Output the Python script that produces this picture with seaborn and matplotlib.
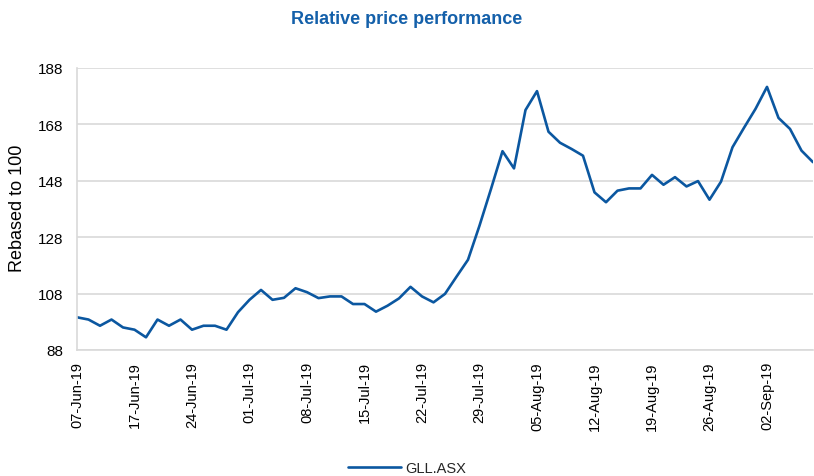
import matplotlib
matplotlib.use("Agg")
import matplotlib.pyplot as plt
import seaborn as sns
import pandas as pd

# Trading days 07-Jun-19 .. 06-Sep-19 (ASX, 10-Jun-19 holiday)
dates = [d for d in pd.bdate_range("2019-06-07", "2019-09-06") if d != pd.Timestamp("2019-06-10")]
values = [
    99.6, 98.8, 96.6, 98.8, 96.0, 95.2, 92.5, 98.8, 96.6, 98.8,
    95.2, 96.6, 96.6, 95.2, 101.4, 105.8, 109.3, 105.8, 106.5, 109.9,
    108.5, 106.4, 107.0, 107.0, 104.3, 104.3, 101.6, 103.7, 106.3, 110.4,
    107.0, 104.9, 107.9, 114.0, 120.0, 132.1, 145.1, 158.5, 152.4, 173.1,
    179.8, 165.4, 161.5, 159.3, 156.9, 143.9, 140.4, 144.5, 145.3, 145.3,
    150.1, 146.6, 149.3, 146.0, 147.9, 141.3, 147.7, 159.9, 166.8, 173.5,
    181.3, 170.3, 166.4, 158.7, 154.6,
]
series_name = "GLL.ASX"
y_ticks = [88, 108, 128, 148, 168, 188]

df = pd.DataFrame({"idx": range(len(values)), "value": values, "series": series_name})

sns.set_theme(style="white")
plt.rcParams["font.family"] = ["Liberation Sans", "DejaVu Sans"]

LINE = "#0B57A0"
fig = plt.figure(figsize=(8.14, 4.77), dpi=100)
ax = fig.add_axes([77 / 814, 1 - 351 / 477, (813 - 77) / 814, (351 - 69) / 477])

sns.lineplot(data=df, x="idx", y="value", hue="series", palette=[LINE],
             linewidth=1.9, ax=ax, legend=False)

ax.set_xlim(0, len(values) - 1)
ax.set_ylim(88, 188)
ax.set_yticks(y_ticks)
ax.set_yticklabels([str(t) for t in y_ticks], fontsize=11, color="#000000")
tick_pos = list(range(0, len(values), 5))
ax.set_xticks(tick_pos)
ax.set_xticklabels([dates[i].strftime("%d-%b-%y") for i in tick_pos],
                   rotation=90, fontsize=10.5, color="#000000")
ax.tick_params(axis="y", length=0, pad=10)
ax.tick_params(axis="x", length=0, pad=8)
ax.set_xlabel("")
ax.set_ylabel("")
ax.yaxis.grid(True, color="#D9D9D9", linewidth=1.2)
ax.xaxis.grid(False)
for s in ["top", "right"]:
    ax.spines[s].set_visible(False)
for s in ["left", "bottom"]:
    ax.spines[s].set_color("#D9D9D9")
    ax.spines[s].set_linewidth(1.2)

fig.text(18 / 814, 1 - 208.5 / 477, "Rebased to 100", rotation=90, ha="center", va="center",
         fontsize=13, color="#000000")
fig.text(0.5, 1 - 19 / 477, "Relative price performance", ha="center", va="center",
         fontsize=13, fontweight="bold", color="#1460AA")

handle = plt.Line2D([], [], color=LINE, linewidth=1.9)
fig.legend([handle], [series_name], loc="center", bbox_to_anchor=(0.5, 1 - 469 / 477),
           frameon=False, fontsize=10.5, handlelength=3.6, handletextpad=0.3)

fig.savefig("out.png", dpi=100)
